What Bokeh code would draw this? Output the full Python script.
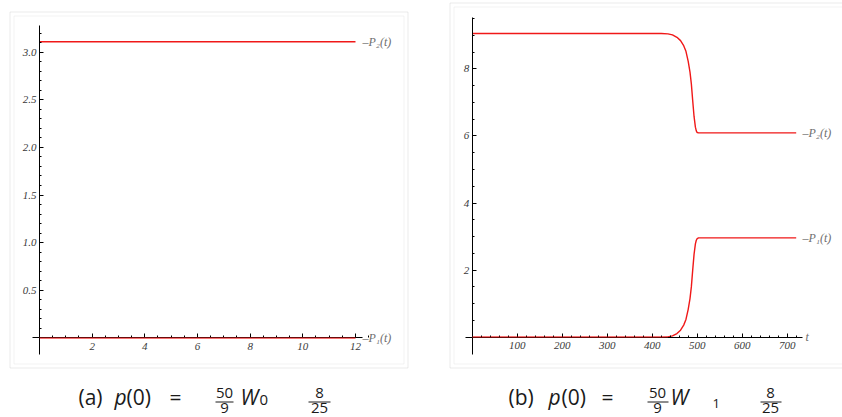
from bokeh.plotting import figure
from bokeh.models import FixedTicker, BoxAnnotation, Range1d
from bokeh.layouts import row
from bokeh.embed import file_html
from bokeh.resources import INLINE
from bokeh.core.properties import value

# ---------------- data ----------------
# panel (a)
a_t = [0, 12]
a_p1 = [0, 0]
a_p2 = [3.11, 3.11]
a_xticks = [2, 4, 6, 8, 10, 12]
a_xminor = [0.5 * i for i in range(0, 26)]
a_yticks = [0.5, 1.0, 1.5, 2.0, 2.5, 3.0]
a_ylabels = ["0.5", "1.0", "1.5", "2.0", "2.5", "3.0"]
a_yminor = [0.1 * i for i in range(0, 33)]

# panel (b)
b_t = [0, 420, 435, 445, 455, 463, 470, 475, 480, 484, 487, 490, 493, 496, 498, 500, 503, 510, 720]
b_p2 = [9.05, 9.05, 9.04, 9.01, 8.94, 8.84, 8.69, 8.52, 8.22, 7.90, 7.55, 7.05, 6.58, 6.26, 6.15, 6.10, 6.09, 6.09, 6.09]
b_p1 = [0.0, 0.0, 0.01, 0.04, 0.11, 0.21, 0.36, 0.53, 0.83, 1.15, 1.50, 2.00, 2.47, 2.78, 2.89, 2.94, 2.96, 2.96, 2.96]
b_xticks = [100, 200, 300, 400, 500, 600, 700]
b_xminor = [20 * i for i in range(0, 37)]
b_yticks = [2, 4, 6, 8]
b_yminor = [0.5 * i for i in range(0, 20)]

H = 417
RED = "#f01818"
LABEL_GRAY = "#6e6e6e"
TICK_COLOR = "#3a3a3a"
CAP_SHIFT = 7  # svg text sits lower than the nominal baseline


def make_fig(width, x0, sx, y0, sy):
    """x0/y0: pixel position of data origin inside figure, sx/sy: pixels per unit"""
    xr = Range1d(-x0 / sx, (width - x0) / sx)
    yr = Range1d(-(H - y0) / sy, y0 / sy)
    p = figure(width=width, height=H, x_range=xr, y_range=yr, title=None,
               output_backend="svg", toolbar_location=None, min_border=0)
    p.outline_line_color = None
    p.grid.visible = False
    p.background_fill_color = "white"
    p.border_fill_color = "white"
    for ax in (p.xaxis, p.yaxis):
        ax.fixed_location = 0
        ax.axis_line_color = "black"
        ax.axis_line_width = 1
        ax.major_tick_line_color = "black"
        ax.minor_tick_line_color = "black"
        ax.major_tick_in = 4
        ax.major_tick_out = 0
        ax.minor_tick_in = 2
        ax.minor_tick_out = 0
        ax.major_label_text_font = "Liberation Serif"
        ax.major_label_text_font_style = "italic"
        ax.major_label_text_font_size = "11px"
        ax.major_label_text_color = TICK_COLOR
    p.xaxis.major_label_standoff = 5
    p.yaxis.major_label_standoff = 3

    fx = lambda px: (px - x0) / sx
    fy = lambda py: (y0 - py) / sy
    return p, fx, fy


def add_box(p, fx, fy, l, r, t, b, color):
    p.add_layout(BoxAnnotation(left=fx(l), right=fx(r), top=fy(t), bottom=fy(b),
                               fill_color=None, fill_alpha=0, line_color=color, line_width=1))


def add_caption(p, fx, fy, items, bars):
    for (txt, px, py, size, style, align) in items:
        p.text(x=[fx(px)], y=[fy(py - CAP_SHIFT)], text=[txt], text_font=value("Open Sans"),
               text_font_size=size, text_font_style=style, text_align=align,
               text_baseline="alphabetic", text_color="#1a1a1a")
    for (x0_, x1_, y_) in bars:
        p.segment(x0=[fx(x0_)], y0=[fy(y_)], x1=[fx(x1_)], y1=[fy(y_)],
                  line_color="#1a1a1a", line_width=1)


def curve_label(p, x, y, txt):
    p.text(x=[x], y=[y], text=[txt], text_font=value("Liberation Serif"),
           text_font_style="italic", text_font_size="12px", text_color=LABEL_GRAY,
           text_align="left", text_baseline="middle")


# ---------------- panel (a) ----------------
pa, fxa, fya = make_fig(440, 39, 26.333, 337.3, 95.2)
add_box(pa, fxa, fya, 9.5, 407.5, 11.5, 367.5, "#bdbdbd")
add_box(pa, fxa, fya, 13.5, 403.5, 15.5, 363.5, "#d6d6d6")
pa.xaxis.ticker = FixedTicker(ticks=a_xticks, minor_ticks=a_xminor)
pa.yaxis.ticker = FixedTicker(ticks=a_yticks, minor_ticks=a_yminor)
pa.yaxis.major_label_overrides = {v: s for v, s in zip(a_yticks, a_ylabels)}
pa.xaxis.bounds = (fxa(32), fxa(362))
pa.yaxis.bounds = (fya(354), fya(25))
pa.line(a_t, a_p2, line_color=RED, line_width=1.4)
pa.line(a_t, a_p1, line_color=RED, line_width=1.6)
pa.line(a_t, a_p1, line_color=RED, line_width=1.6, line_alpha=0.45, level="overlay")
curve_label(pa, fxa(362), a_p2[-1], "–P₂(t)")
curve_label(pa, fxa(362), a_p1[-1], "–P₁(t)")
add_caption(pa, fxa, fya, [
    ("(a)", 78, 403, "21px", "normal", "left"),
    ("p", 114, 403, "21px", "italic", "left"),
    ("(0)", 126, 403, "21px", "normal", "left"),
    ("=", 175, 403, "21px", "normal", "center"),
    ("50", 224, 399, "15px", "normal", "center"),
    ("9", 224, 414, "15px", "normal", "center"),
    ("W", 240, 403, "21px", "italic", "left"),
    ("0", 259, 406, "15px", "normal", "left"),
    ("8", 319, 399, "15px", "normal", "center"),
    ("25", 319, 414, "15px", "normal", "center"),
], [(215, 233, 401.5), (308, 330, 401.5)])

# ---------------- panel (b) ----------------
pb, fxb, fyb = make_fig(402, 31.7, 0.45, 336.7, 33.55)
add_box(pb, fxb, fyb, 9.5, 430, 2.5, 367.5, "#bdbdbd")
add_box(pb, fxb, fyb, 13.5, 426, 6.5, 363.5, "#d6d6d6")
pb.xaxis.ticker = FixedTicker(ticks=b_xticks, minor_ticks=b_xminor)
pb.yaxis.ticker = FixedTicker(ticks=b_yticks, minor_ticks=b_yminor)
pb.xaxis.bounds = (-15, 733)
pb.yaxis.bounds = (fyb(354), fyb(16.7))
pb.line(b_t, b_p2, line_color=RED, line_width=1.4)
pb.line(b_t, b_p1, line_color=RED, line_width=1.4)
pb.line(b_t[:3], b_p1[:3], line_color=RED, line_width=1.6, line_alpha=0.45, level="overlay")
curve_label(pb, fxb(362), b_p2[-1], "–P₂(t)")
curve_label(pb, fxb(362), b_p1[-1], "–P₁(t)")
curve_label(pb, fxb(365), 0, "t")
add_caption(pb, fxb, fyb, [
    ("(b)", 68, 403, "21px", "normal", "left"),
    ("p", 108, 403, "21px", "italic", "left"),
    ("(0)", 121, 403, "21px", "normal", "left"),
    ("=", 167, 403, "21px", "normal", "center"),
    ("50", 217, 399, "15px", "normal", "center"),
    ("9", 217, 414, "15px", "normal", "center"),
    ("W", 230, 403, "21px", "italic", "left"),
    ("1", 272, 410, "13px", "normal", "left"),
    ("8", 330, 399, "15px", "normal", "center"),
    ("25", 330, 414, "15px", "normal", "center"),
], [(207, 228, 401.5), (320, 341, 401.5)])

layout = row(pa, pb)
open("out.html", "w").write(file_html(layout, INLINE))
